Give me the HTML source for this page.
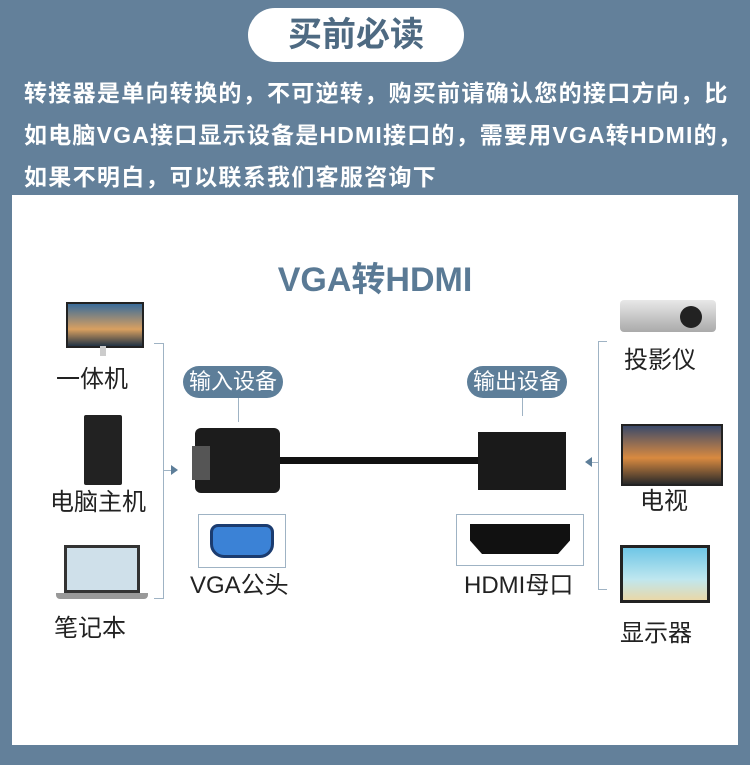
<!DOCTYPE html>
<html><head><meta charset="utf-8"><style>
body{margin:0;width:750px;height:765px;background:#63809a;position:relative;overflow:hidden;font-family:"Liberation Sans","Noto Sans CJK SC",sans-serif}
.a{position:absolute}
.t{color:#fff;font-weight:bold;font-size:23px;left:24px;letter-spacing:1.3px;white-space:nowrap}
.lbl{font-size:24px;color:#222;text-align:center;white-space:nowrap}
.pill{background:#5d7e99;color:#fff;border-radius:16px;font-size:22px;padding:0 6px;height:32px;line-height:32px}
.ln{background:#9fb3c4}
</style></head><body>
<div class="a" style="left:248px;top:8px;width:216px;height:54px;background:#fff;border-radius:27px;text-align:center;line-height:54px;font-size:34px;color:#4e6a82;font-weight:bold">买前必读</div>
<div class="a t" style="top:74px">转接器是单向转换的，不可逆转，购买前请确认您的接口方向，比</div>
<div class="a t" style="top:116px;letter-spacing:1.2px">如电脑VGA接口显示设备是HDMI接口的，需要用VGA转HDMI的，</div>
<div class="a t" style="top:158px">如果不明白，可以联系我们客服咨询下</div>
<div class="a" style="left:12px;top:195px;width:726px;height:550px;background:#fff"></div>
<div class="a" style="left:0;top:252px;width:750px;text-align:center;font-size:34px;font-weight:bold;color:#5a7a95">VGA转HDMI</div>

<!-- left devices -->
<div class="a" style="left:66px;top:302px;width:74px;height:42px;background:linear-gradient(#3a6c9a,#d9a060 60%,#234);border:2px solid #222"></div>
<div class="a" style="left:100px;top:346px;width:6px;height:10px;background:#ccc"></div>
<div class="a lbl" style="left:56px;top:359px">一体机</div>
<div class="a" style="left:84px;top:415px;width:38px;height:70px;background:#222;border-radius:2px"></div>
<div class="a lbl" style="left:50px;top:482px">电脑主机</div>
<div class="a" style="left:64px;top:545px;width:76px;height:48px;background:#cfe0ea;border:3px solid #333;box-sizing:border-box"></div>
<div class="a" style="left:56px;top:593px;width:92px;height:6px;background:#999;border-radius:0 0 4px 4px"></div>
<div class="a lbl" style="left:54px;top:608px">笔记本</div>
<div class="a ln" style="left:163px;top:343px;width:1px;height:256px"></div>
<div class="a ln" style="left:154px;top:343px;width:9px;height:1px"></div>
<div class="a ln" style="left:154px;top:598px;width:9px;height:1px"></div>
<div class="a ln" style="left:163px;top:470px;width:8px;height:1px"></div>
<div class="a" style="left:171px;top:465px;width:0;height:0;border-left:7px solid #5d7e99;border-top:5px solid transparent;border-bottom:5px solid transparent"></div>

<!-- center -->
<div class="a pill" style="left:183px;top:366px">输入设备</div>
<div class="a pill" style="left:467px;top:366px">输出设备</div>
<div class="a ln" style="left:238px;top:398px;width:1px;height:24px"></div>
<div class="a ln" style="left:522px;top:398px;width:1px;height:18px"></div>
<div class="a" style="left:195px;top:428px;width:85px;height:65px;background:#1c1c1c;border-radius:6px"></div>
<div class="a" style="left:192px;top:446px;width:18px;height:34px;background:#555"></div>
<div class="a" style="left:280px;top:457px;width:200px;height:7px;background:#111"></div>
<div class="a" style="left:478px;top:432px;width:88px;height:58px;background:#1a1a1a"></div>
<div class="a" style="left:198px;top:514px;width:86px;height:52px;border:1px solid #9fb3c4"></div>
<div class="a" style="left:210px;top:524px;width:64px;height:34px;background:#3b82d6;border:3px solid #1b3c70;border-radius:8px 8px 14px 14px;box-sizing:border-box"></div>
<div class="a lbl" style="left:190px;top:565px">VGA公头</div>
<div class="a" style="left:456px;top:514px;width:126px;height:50px;border:1px solid #9fb3c4"></div>
<div class="a" style="left:470px;top:524px;width:100px;height:30px;background:#111;clip-path:polygon(0 0,100% 0,100% 55%,88% 100%,12% 100%,0 55%)"></div>
<div class="a lbl" style="left:464px;top:565px">HDMI母口</div>

<!-- right -->
<div class="a ln" style="left:598px;top:341px;width:1px;height:249px"></div>
<div class="a ln" style="left:598px;top:341px;width:9px;height:1px"></div>
<div class="a ln" style="left:598px;top:589px;width:9px;height:1px"></div>
<div class="a ln" style="left:592px;top:462px;width:6px;height:1px"></div>
<div class="a" style="left:585px;top:457px;width:0;height:0;border-right:7px solid #5d7e99;border-top:5px solid transparent;border-bottom:5px solid transparent"></div>
<div class="a" style="left:620px;top:300px;width:96px;height:32px;background:linear-gradient(#e8e8e8,#aaa);border-radius:4px"></div>
<div class="a" style="left:680px;top:306px;width:22px;height:22px;background:#222;border-radius:50%"></div>
<div class="a lbl" style="left:624px;top:340px">投影仪</div>
<div class="a" style="left:621px;top:424px;width:98px;height:58px;background:linear-gradient(#3b4a6a,#d98a40 55%,#2a2a2a);border:2px solid #222"></div>
<div class="a lbl" style="left:640px;top:481px">电视</div>
<div class="a" style="left:620px;top:545px;width:90px;height:58px;background:linear-gradient(#6fc6e6,#bfe7ef 60%,#e9d8a8);border:3px solid #222;box-sizing:border-box"></div>
<div class="a lbl" style="left:620px;top:613px">显示器</div>
</body></html>
